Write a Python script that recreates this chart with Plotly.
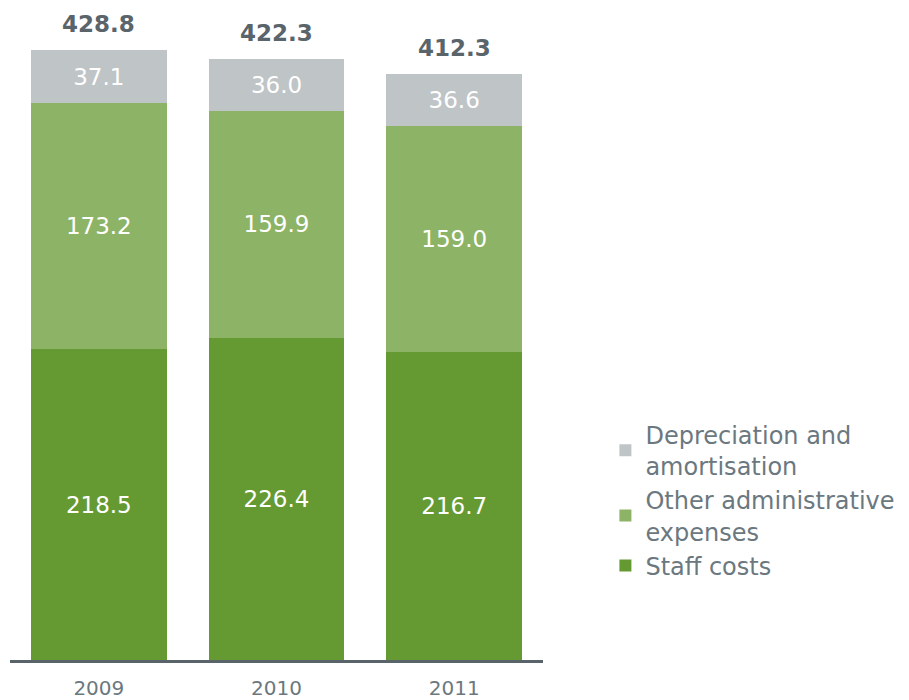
import plotly.graph_objects as go

years = ["2009", "2010", "2011"]
staff = [218.5, 226.4, 216.7]
other = [173.2, 159.9, 159.0]
depr = [37.1, 36.0, 36.6]
totals = [428.8, 422.3, 412.3]
total_labels = ["428.8", "422.3", "412.3"]

c_staff = "#659a32"
c_other = "#8db466"
c_depr = "#bfc4c6"
txt = "#6b7880"
dark = "#59646b"
FONT = "DejaVu Sans, sans-serif"

fig = go.Figure()
for name, vals, col in [
    ("Staff costs", staff, c_staff),
    ("Other administrative<br>expenses", other, c_other),
    ("Depreciation and<br>amortisation", depr, c_depr),
]:
    fig.add_trace(go.Bar(
        x=years, y=vals, name=name, marker=dict(color=col, line=dict(width=0)),
        text=[f"{v:.1f}" for v in vals], textposition="inside",
        insidetextanchor="middle", textangle=0,
        textfont=dict(color="white", size=23, family=FONT),
        hoverinfo="skip", cliponaxis=False,
    ))

# category index positions on the category axis
for i, (tot, lab) in enumerate(zip(totals, total_labels)):
    fig.add_annotation(
        x=i, y=tot, xref="x", yref="y", text=lab, showarrow=False,
        yanchor="bottom", yshift=11,
        font=dict(color=dark, size=23, family=FONT, weight="bold"),
    )

fig.update_layout(
    width=909, height=700,
    margin=dict(l=10, r=365, t=20, b=40),
    barmode="stack", bargap=0.236,
    plot_bgcolor="white", paper_bgcolor="white",
    font=dict(family=FONT, color=txt),
    showlegend=True,
    legend=dict(
        x=1.115, xanchor="left", y=0.25, yanchor="middle",
        traceorder="reversed",
        font=dict(size=24, color=txt, family=FONT),
        itemsizing="constant",
        bgcolor="rgba(0,0,0,0)",
    ),
    xaxis=dict(
        type="category", range=[-0.5, 2.5],
        showline=True, linecolor="#58636a", linewidth=3,
        showgrid=False, zeroline=False, automargin=False,
        ticks="outside", ticklen=8, tickcolor="rgba(0,0,0,0)",
        tickfont=dict(size=20, color=txt, family=FONT),
        fixedrange=True,
    ),
    yaxis=dict(visible=False, range=[0, 450], fixedrange=True, automargin=False),
)

fig.write_html("out.html")
